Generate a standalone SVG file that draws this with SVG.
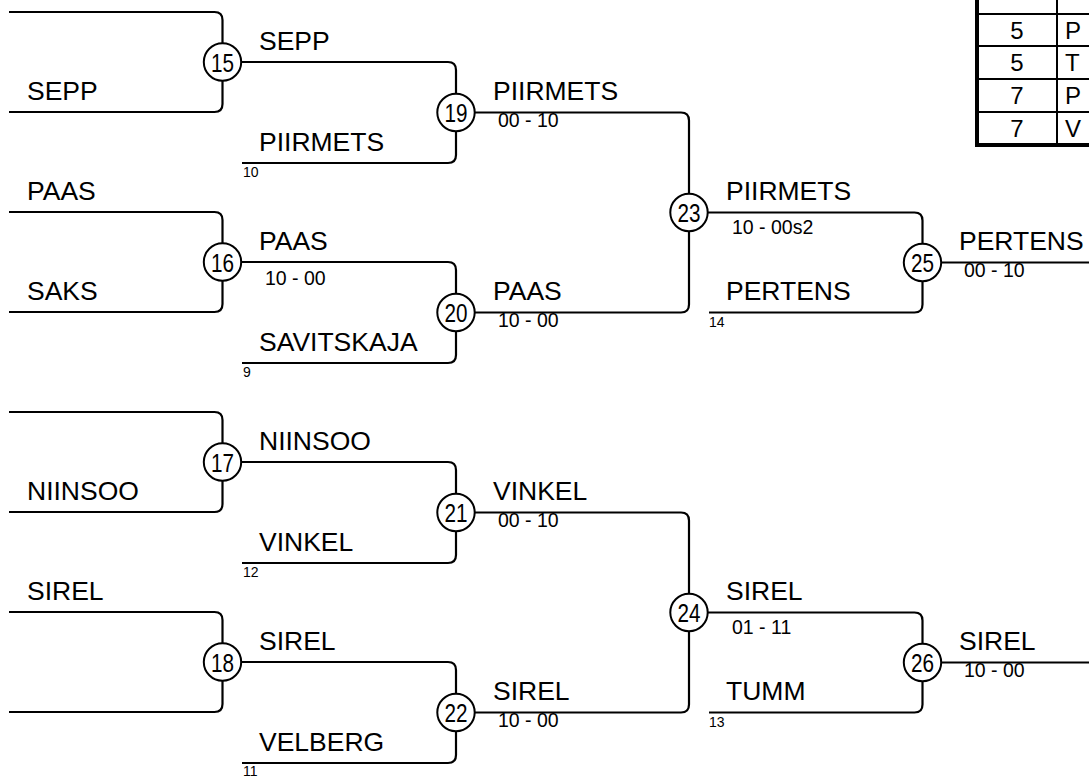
<svg xmlns="http://www.w3.org/2000/svg" width="1089" height="776" viewBox="0 0 1089 776">
<style>
.c{fill:none;stroke:#000;stroke-width:2.2}
.n circle{fill:#fff;stroke:#000;stroke-width:2}
.num{font-family:"Liberation Sans",Arial,sans-serif;font-size:25px;text-anchor:middle;fill:#000}
.nm{font-family:"Liberation Sans",Arial,sans-serif;font-size:26.5px;fill:#000}
.sc{font-family:"Liberation Sans",Arial,sans-serif;font-size:19.5px;fill:#000}
.sd{font-family:"Liberation Sans",Arial,sans-serif;font-size:14px;fill:#000}
.tb{font-family:"Liberation Sans",Arial,sans-serif;font-size:24px;fill:#000}
</style>
<rect width="1089" height="776" fill="#fff"/>
<g id="connectors" class="c">
<path d="M9,12 H214.5 Q222.5,12 222.5,20 V104 Q222.5,112 214.5,112 H9"/>
<path d="M9,212 H214.5 Q222.5,212 222.5,220 V304 Q222.5,312 214.5,312 H9"/>
<path d="M9,412 H214.5 Q222.5,412 222.5,420 V504 Q222.5,512 214.5,512 H9"/>
<path d="M9,612 H214.5 Q222.5,612 222.5,620 V704 Q222.5,712 214.5,712 H9"/>
<path d="M222.5,62 H448 Q456,62 456,70 V155 Q456,163 448,163 H242"/>
<path d="M222.5,262 H448 Q456,262 456,270 V355 Q456,363 448,363 H242"/>
<path d="M222.5,462 H448 Q456,462 456,470 V555 Q456,563 448,563 H242"/>
<path d="M222.5,662 H448 Q456,662 456,670 V755 Q456,763 448,763 H242"/>
<path d="M456,112.5 H681 Q689,112.5 689,120.5 V304.5 Q689,312.5 681,312.5 H456"/>
<path d="M456,512.5 H681 Q689,512.5 689,520.5 V704.5 Q689,712.5 681,712.5 H456"/>
<path d="M689,212.5 H914.5 Q922.5,212.5 922.5,220.5 V304.5 Q922.5,312.5 914.5,312.5 H709"/>
<path d="M689,612.5 H914.5 Q922.5,612.5 922.5,620.5 V704.5 Q922.5,712.5 914.5,712.5 H709"/>
<path d="M922.5,262.5 H1089"/>
<path d="M922.5,662.5 H1089"/>
</g>
<g id="entrants">
<text class="nm" x="27" y="100">SEPP</text>
<text class="nm" x="27" y="200">PAAS</text>
<text class="nm" x="27" y="300">SAKS</text>
<text class="nm" x="27" y="500">NIINSOO</text>
<text class="nm" x="27" y="600">SIREL</text>
<text class="nm" x="259" y="151">PIIRMETS</text><text class="sd" x="243" y="177">10</text>
<text class="nm" x="259" y="351">SAVITSKAJA</text><text class="sd" x="243" y="377">9</text>
<text class="nm" x="259" y="551">VINKEL</text><text class="sd" x="243" y="577">12</text>
<text class="nm" x="259" y="751">VELBERG</text><text class="sd" x="243" y="776">11</text>
<text class="nm" x="726" y="300">PERTENS</text><text class="sd" x="709" y="327">14</text>
<text class="nm" x="726" y="700">TUMM</text><text class="sd" x="709" y="727">13</text>
</g>
<g id="m15" class="n"><text class="nm" x="259" y="50">SEPP</text><circle cx="222.5" cy="62" r="18.7"/><text class="num" x="222.5" y="71.5" textLength="23" lengthAdjust="spacingAndGlyphs">15</text></g>
<g id="m16" class="n"><text class="nm" x="259" y="250">PAAS</text><text class="sc" x="265" y="285">10 - 00</text><circle cx="222.5" cy="262" r="18.7"/><text class="num" x="222.5" y="271.5" textLength="23" lengthAdjust="spacingAndGlyphs">16</text></g>
<g id="m17" class="n"><text class="nm" x="259" y="450">NIINSOO</text><circle cx="222.5" cy="462" r="18.7"/><text class="num" x="222.5" y="471.5" textLength="23" lengthAdjust="spacingAndGlyphs">17</text></g>
<g id="m18" class="n"><text class="nm" x="259" y="650">SIREL</text><circle cx="222.5" cy="662" r="18.7"/><text class="num" x="222.5" y="671.5" textLength="23" lengthAdjust="spacingAndGlyphs">18</text></g>
<g id="m19" class="n"><text class="nm" x="493" y="100">PIIRMETS</text><text class="sc" x="498" y="127">00 - 10</text><circle cx="456" cy="112.5" r="18.7"/><text class="num" x="456" y="122" textLength="23" lengthAdjust="spacingAndGlyphs">19</text></g>
<g id="m20" class="n"><text class="nm" x="493" y="300">PAAS</text><text class="sc" x="498" y="327">10 - 00</text><circle cx="456" cy="312.5" r="18.7"/><text class="num" x="456" y="322" textLength="23" lengthAdjust="spacingAndGlyphs">20</text></g>
<g id="m21" class="n"><text class="nm" x="493" y="500">VINKEL</text><text class="sc" x="498" y="527">00 - 10</text><circle cx="456" cy="512.5" r="18.7"/><text class="num" x="456" y="522" textLength="23" lengthAdjust="spacingAndGlyphs">21</text></g>
<g id="m22" class="n"><text class="nm" x="493" y="700">SIREL</text><text class="sc" x="498" y="727">10 - 00</text><circle cx="456" cy="712.5" r="18.7"/><text class="num" x="456" y="722" textLength="23" lengthAdjust="spacingAndGlyphs">22</text></g>
<g id="m23" class="n"><text class="nm" x="726" y="200">PIIRMETS</text><text class="sc" x="732" y="234">10 - 00s2</text><circle cx="689" cy="212.5" r="18.7"/><text class="num" x="689" y="222" textLength="23" lengthAdjust="spacingAndGlyphs">23</text></g>
<g id="m24" class="n"><text class="nm" x="726" y="600">SIREL</text><text class="sc" x="732" y="634">01 - 11</text><circle cx="689" cy="612.5" r="18.7"/><text class="num" x="689" y="622" textLength="23" lengthAdjust="spacingAndGlyphs">24</text></g>
<g id="m25" class="n"><text class="nm" x="959" y="250">PERTENS</text><text class="sc" x="964" y="277">00 - 10</text><circle cx="922.5" cy="262.5" r="18.7"/><text class="num" x="922.5" y="272" textLength="23" lengthAdjust="spacingAndGlyphs">25</text></g>
<g id="m26" class="n"><text class="nm" x="959" y="650">SIREL</text><text class="sc" x="964" y="677">10 - 00</text><circle cx="922.5" cy="662.5" r="18.7"/><text class="num" x="922.5" y="672" textLength="23" lengthAdjust="spacingAndGlyphs">26</text></g>
<g id="table">
<path d="M977,0 V147 M975,145 H1089" stroke="#000" stroke-width="4" fill="none"/>
<path d="M1057,0 V145 M977,14 H1089 M977,46 H1089 M977,79 H1089 M977,112 H1089" stroke="#000" stroke-width="2" fill="none"/>
<text class="tb" x="1017" y="39" text-anchor="middle">5</text><text class="tb" x="1065" y="39">P</text>
<text class="tb" x="1017" y="71" text-anchor="middle">5</text><text class="tb" x="1065" y="71">T</text>
<text class="tb" x="1017" y="104" text-anchor="middle">7</text><text class="tb" x="1065" y="104">P</text>
<text class="tb" x="1017" y="137" text-anchor="middle">7</text><text class="tb" x="1065" y="137">V</text>
</g>
</svg>
